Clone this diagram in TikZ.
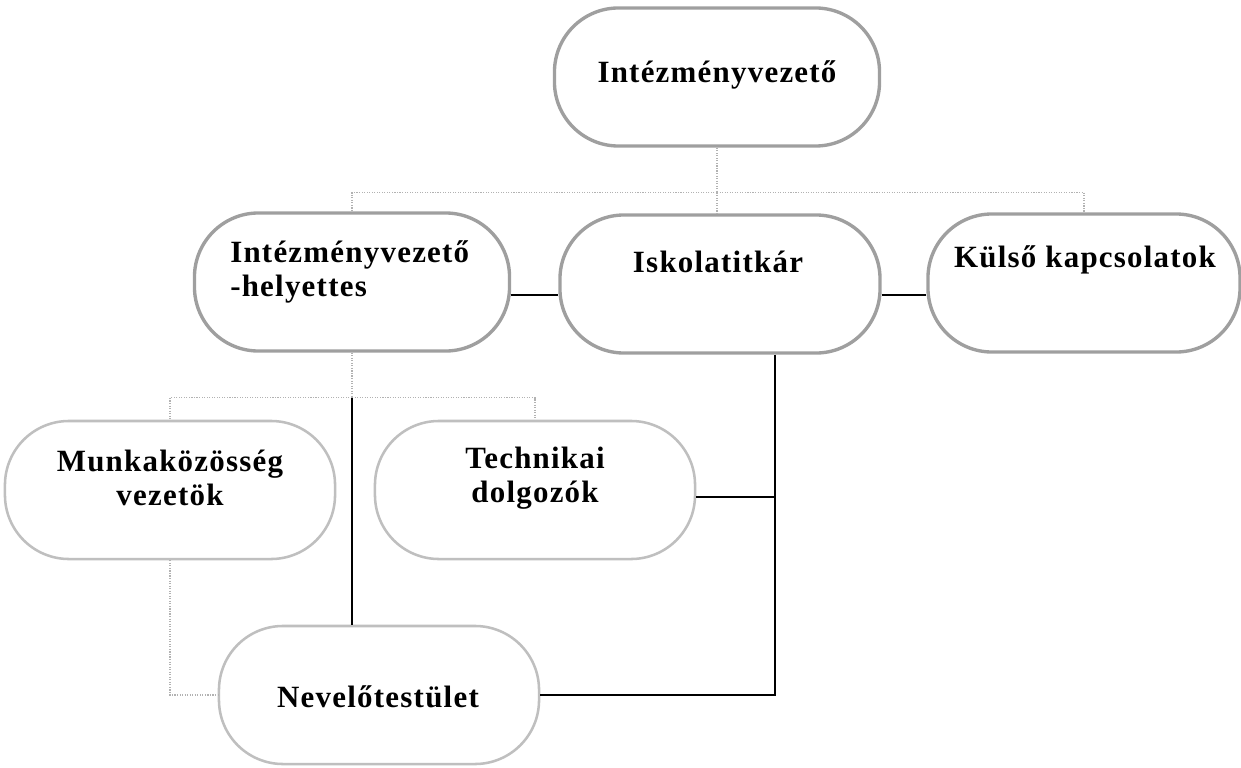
\documentclass[tikz,border=0pt]{standalone}
\usepackage{fontspec}
\setmainfont{Liberation Serif}[LetterSpace=4]

\begin{document}
\begin{tikzpicture}[x=0.025cm, y=-0.025cm,
    doboz/.style={draw=gray!75, line width=2.4pt, fill=white,
        rounded corners=1.6cm, minimum width=8cm, minimum height=3.45cm},
    halvany/.style={doboz, draw=gray!50, line width=1.8pt},
    felirat/.style={font=\fontsize{22}{24.5}\selectfont\bfseries,
        align=center, inner sep=0pt},
    fa/.style={gray!60, line width=0.8pt, densely dotted},
    kapocs/.style={black, line width=1.3pt}]

        \useasboundingbox (0,0) rectangle (1241,768);

        % Boxes
        \node[doboz, minimum width=8.125cm] (igazgato) at (717,77) {};
        \node[doboz, minimum width=7.875cm] (helyettes) at (352,282) {};
        \node[doboz] (titkar) at (720,284) {};
        \node[doboz, minimum width=7.8cm] (kulso) at (1084,283) {};
        \node[halvany, minimum width=8.25cm] (munka) at (170,490) {};
        \node[halvany] (technikai) at (535,490) {};
        \node[halvany] (nevelo) at (379,695) {};

        % Texts
        \node[felirat] (igazgato-t) at (717,75) {Intézményvezető};
        \node[felirat, align=left, anchor=west] (helyettes-t) at (230,272)
            {Intézményvezető\\-helyettes};
        \node[felirat] (titkar-t) at (718,262) {Iskolatitkár};
        \node[felirat] (kulso-t) at (1085,260) {Külső kapcsolatok};
        \node[felirat] (munka-t) at (170,478) {Munkaközösség\\vezetök};
        \node[felirat] (technikai-t) at (535,478) {Technikai\\dolgozók};
        \node[felirat] (nevelo-t) at (378,697) {Nevelőtestület};

        % Tree lines: gray dotted
        \draw[fa] (igazgato.south) -- ++(0,45) coordinate (busz1);
        \draw[fa] (busz1) -| (helyettes.north);
        \draw[fa] (busz1) -- (busz1 |- titkar.north);
        \draw[fa] (busz1) -| (kulso.north);
        \draw[fa] (helyettes.south) -- ++(0,45) coordinate (busz2);
        \draw[fa] (busz2) -| (munka.north);
        \draw[fa] (busz2) -| (technikai.north);
        \draw[fa] (munka.south) |- (nevelo.west);

        % Links: solid black
        \draw[kapocs] ([yshift=-0.33cm]helyettes.east)
            -- ([yshift=-0.33cm]helyettes.east -| titkar.west);
        \draw[kapocs] ([yshift=-0.28cm]titkar.east)
            -- ([yshift=-0.28cm]titkar.east -| kulso.west);
        \draw[kapocs] (busz2) -- (busz2 |- nevelo.north);
        \coordinate (lefut) at ([xshift=1.375cm]titkar.south);
        \draw[kapocs] (lefut) |- (nevelo.east);
        \draw[kapocs] ([yshift=-0.18cm]technikai.east)
            -- ([yshift=-0.18cm]technikai.east -| lefut);

    \end{tikzpicture}
\end{document}
